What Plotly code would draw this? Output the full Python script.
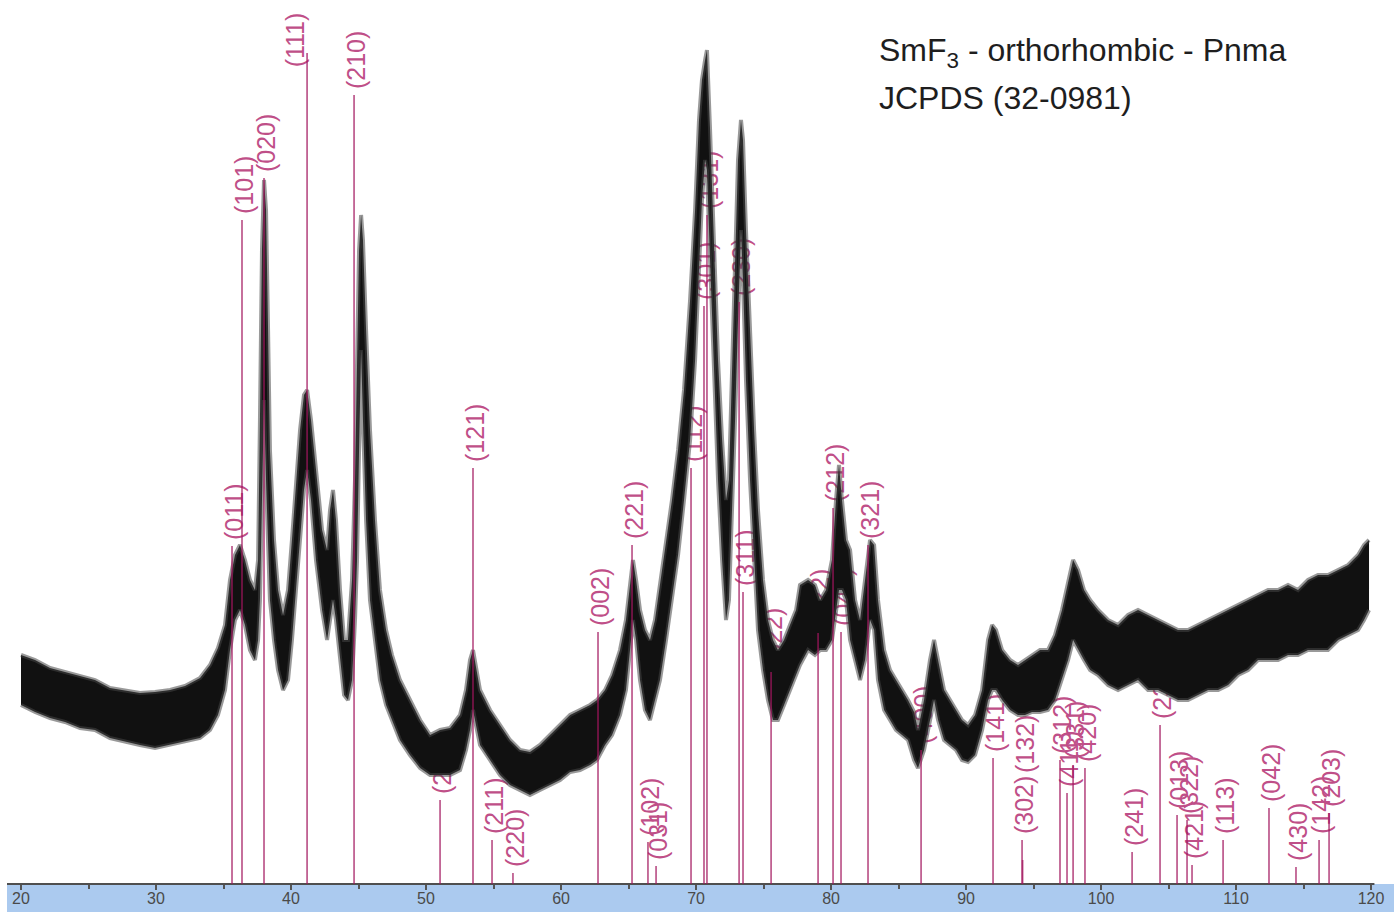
import plotly.graph_objects as go

# ---------------------------------------------------------------------------
# Measured powder pattern: 2-theta (deg) with upper / lower edge of the noisy
# intensity band (counts, arbitrary units)
# ---------------------------------------------------------------------------
two_theta = [
    20.00, 21.04, 22.15, 23.26, 24.37, 25.48, 26.59, 27.70, 28.81, 29.93,
    31.04, 32.15, 33.26, 34.00, 34.59, 35.11, 35.48, 35.85, 36.22, 36.59,
    36.96, 37.33, 37.56, 37.70, 37.85, 38.00, 38.15, 38.30, 38.44, 38.74,
    39.04, 39.41, 39.78, 40.07, 40.37, 40.67, 40.96, 41.19, 41.48, 41.85,
    42.30, 42.67, 42.89, 43.11, 43.33, 43.63, 43.93, 44.22, 44.52, 44.74,
    44.89, 45.04, 45.19, 45.33, 45.56, 45.85, 46.22, 46.59, 47.04, 47.48,
    48.07, 48.81, 49.56, 50.30, 51.04, 51.78, 52.52, 52.96, 53.26, 53.48,
    53.70, 54.00, 54.74, 55.48, 56.22, 56.96, 57.70, 58.44, 59.19, 59.93,
    60.67, 61.41, 62.15, 62.67, 63.26, 63.78, 64.37, 64.81, 65.11, 65.33,
    65.56, 65.85, 66.22, 66.59, 66.96, 67.33, 67.78, 68.22, 68.67, 69.11,
    69.56, 69.93, 70.22, 70.44, 70.67, 70.81, 71.04, 71.33, 71.63, 71.93,
    72.22, 72.44, 72.67, 72.89, 73.11, 73.33, 73.48, 73.70, 74.00, 74.30,
    74.59, 74.96, 75.33, 75.70, 76.07, 76.52, 76.96, 77.41, 77.70, 78.30,
    78.81, 79.19, 79.63, 80.07, 80.37, 80.59, 80.81, 81.11, 81.41, 81.78,
    82.15, 82.52, 82.89, 83.19, 83.48, 83.93, 84.37, 84.81, 85.26, 85.70,
    86.15, 86.44, 86.89, 87.33, 87.63, 87.93, 88.37, 88.81, 89.26, 89.70,
    90.15, 90.67, 91.19, 91.63, 91.93, 92.22, 92.67, 93.26, 93.85, 94.37,
    94.89, 95.48, 96.07, 96.59, 97.11, 97.56, 97.93, 98.30, 98.74, 99.19,
    99.78, 100.52, 101.26, 102.00, 102.74, 103.48, 104.22, 104.96, 105.70, 106.44,
    107.19, 107.93, 108.67, 109.41, 110.15, 110.89, 111.63, 112.37, 113.11, 113.85,
    114.59, 115.33, 116.07, 116.81, 117.56, 118.30, 119.04, 119.48, 119.85,
]

intensity_upper = [
    229, 224, 216, 212, 209, 204, 196, 194, 191, 192,
    194, 198, 206, 219, 236, 259, 304, 329, 339, 324,
    304, 294, 324, 464, 634, 704, 674, 554, 434, 344,
    294, 269, 294, 344, 404, 454, 489, 494, 464, 414,
    354, 334, 374, 394, 364, 294, 244, 244, 304, 404,
    554, 634, 669, 644, 554, 454, 364, 294, 254, 229,
    204, 184, 164, 149, 154, 156, 169, 194, 224, 234,
    219, 194, 174, 159, 144, 134, 132, 139, 149, 159,
    169, 174, 179, 184, 194, 209, 234, 264, 304, 324,
    304, 274, 254, 244, 264, 299, 344, 384, 434, 494,
    584, 674, 764, 804, 824, 834, 754, 634, 524, 444,
    384, 404, 524, 644, 724, 764, 744, 654, 544, 454,
    374, 304, 264, 244, 234, 244, 259, 274, 299, 304,
    299, 284, 294, 324, 384, 419, 384, 344, 334, 284,
    264, 304, 344, 339, 284, 234, 214, 204, 194, 184,
    172, 154, 184, 224, 244, 224, 194, 184, 174, 164,
    159, 169, 194, 244, 259, 254, 234, 224, 219, 224,
    229, 234, 234, 249, 274, 304, 324, 314, 294, 284,
    274, 264, 259, 269, 274, 269, 264, 259, 254, 254,
    259, 264, 269, 274, 279, 284, 289, 294, 294, 299,
    294, 304, 309, 309, 314, 319, 329, 339, 344,
]

intensity_lower = [
    179, 172, 166, 162, 156, 154, 146, 142, 139, 136,
    139, 142, 146, 154, 169, 194, 234, 264, 274, 259,
    234, 224, 244, 284, 364, 484, 404, 324, 284, 244,
    214, 194, 204, 244, 294, 344, 394, 414, 384, 324,
    274, 244, 264, 284, 264, 224, 189, 184, 204, 264,
    324, 434, 534, 464, 364, 284, 244, 204, 179, 164,
    144, 129, 116, 109, 109, 109, 114, 134, 154, 174,
    159, 139, 124, 109, 99, 94, 89, 94, 99, 104,
    112, 114, 119, 124, 139, 149, 169, 194, 234, 264,
    244, 204, 174, 164, 184, 204, 244, 284, 329, 384,
    444, 524, 604, 684, 724, 714, 624, 504, 404, 324,
    264, 284, 364, 464, 564, 654, 604, 504, 404, 324,
    254, 214, 184, 164, 164, 179, 194, 209, 219, 234,
    229, 234, 234, 244, 274, 294, 294, 284, 244, 224,
    204, 224, 264, 254, 204, 174, 164, 154, 149, 144,
    124, 116, 134, 164, 184, 164, 144, 139, 134, 124,
    122, 129, 154, 184, 194, 194, 184, 174, 169, 169,
    172, 172, 174, 184, 204, 224, 244, 234, 224, 214,
    209, 199, 194, 199, 204, 194, 194, 189, 184, 184,
    189, 194, 194, 199, 209, 214, 224, 224, 224, 229,
    229, 234, 234, 234, 244, 249, 254, 264, 274,
]

# ---------------------------------------------------------------------------
# Reference reflections, SmF3 orthorhombic Pnma, JCPDS 32-0981
# ---------------------------------------------------------------------------
ref_hkl = [
    "(011)", "(101)", "(020)", "(111)", "(210)", "(201)", "(121)", "(211)",
    "(220)", "(002)", "(221)", "(102)", "(031)", "(112)", "(301)", "(131)",
    "(230)", "(311)", "(022)", "(122)", "(212)", "(040)", "(321)", "(400)",
    "(141)", "(302)", "(132)", "(312)", "(411)", "(331)", "(420)", "(241)",
    "(232)", "(013)", "(322)", "(421)", "(113)", "(042)", "(430)", "(142)",
    "(203)",
]
ref_two_theta = [
    35.63, 36.37, 38.00, 41.19, 44.67, 51.04, 53.48, 54.89,
    56.44, 62.74, 65.26, 66.44, 67.04, 69.63, 70.59, 70.81,
    73.19, 73.48, 75.56, 79.04, 80.15, 80.74, 82.74, 86.67,
    92.00, 94.15, 94.19, 96.96, 97.48, 97.93, 98.81, 102.30,
    104.37, 105.63, 106.37, 106.74, 109.04, 112.44, 114.44, 116.15,
    116.89,
]
ref_intensity = [
    338, 664, 706, 831, 789, 84, 416, 44,
    11, 252, 339, 42, 18, 416, 578, 669,
    582, 292, 212, 251, 376, 252, 339, 134,
    126, 44, 24, 124, 91, 119, 116, 32,
    159, 69, 64, 19, 44, 76, 17, 44,
    71,
]

title_lines = ["SmF<sub>3</sub> - orthorhombic - Pnma", "JCPDS (32-0981)"]

# ---------------------------------------------------------------------------
# Layout geometry and styles
# ---------------------------------------------------------------------------
WIDTH, HEIGHT = 1394, 912
MARGIN = dict(l=7, r=0, t=0, b=28)
X_RANGE = [18.963, 121.70]
Y_RANGE = [0, 884]
PLOT_H = HEIGHT - MARGIN["t"] - MARGIN["b"]
PLOT_W = WIDTH - MARGIN["l"] - MARGIN["r"]
Y_PER_PX = (Y_RANGE[1] - Y_RANGE[0]) / PLOT_H

FONT = "Liberation Sans, Arial, Helvetica, sans-serif"
STICK_COLOR = "#a3175f"
LABEL_COLOR = "#bf4f88"
BAND_COLOR = "#111111"
EDGE_COLOR = "rgba(70,70,70,0.55)"
AXIS_BAND = "#abcaef"

LABEL_GAP_PX = 6
# labels moved from their default spot above the stick (total lift in px)
LABEL_LIFT_PX = {"(111)": 13, "(132)": 87}
# labels drawn alongside the stick instead of above it
LABEL_BESIDE = {"(111)"}

fig = go.Figure()

# noisy measured pattern drawn as a filled band between its two edges;
# the wide translucent edge gives the band its grey fringe
fig.add_trace(go.Scatter(
    x=two_theta, y=intensity_lower, mode="lines",
    line=dict(color=EDGE_COLOR, width=4),
    hoverinfo="skip", showlegend=False,
))
fig.add_trace(go.Scatter(
    x=two_theta, y=intensity_upper, mode="lines",
    fill="tonexty", fillcolor=BAND_COLOR,
    line=dict(color=EDGE_COLOR, width=4),
    hoverinfo="skip", showlegend=False,
))

shapes = [
    # light-blue strip that carries the 2-theta tick labels
    dict(type="rect", xref="paper", yref="paper",
         x0=0, x1=1, y0=-MARGIN["b"] / PLOT_H, y1=0,
         fillcolor=AXIS_BAND, line=dict(width=0), layer="below"),
    # baseline
    dict(type="line", xref="x", yref="paper",
         x0=X_RANGE[0], x1=120.25, y0=0, y1=0,
         line=dict(color="#4f4f4f", width=2), layer="above"),
]

for hkl, tt, inten in zip(ref_hkl, ref_two_theta, ref_intensity):
    beside = hkl in LABEL_BESIDE
    lift = LABEL_LIFT_PX.get(hkl, LABEL_GAP_PX) * Y_PER_PX
    # invisible carrier whose end holds the Miller-index label (below the data)
    shapes.append(dict(
        type="line", xref="x", yref="y",
        x0=tt, x1=tt, y0=0, y1=inten + lift,
        line=dict(color="rgba(0,0,0,0)", width=1), layer="below",
        label=dict(
            text=hkl, textposition="end", textangle=-90,
            xanchor="center" if beside else "left",
            yanchor="bottom" if beside else "middle",
            padding=0,
            font=dict(family=FONT, size=25, color=LABEL_COLOR),
        ),
    ))
    # reference stick drawn over the pattern
    shapes.append(dict(
        type="line", xref="x", yref="y",
        x0=tt, x1=tt, y0=0, y1=inten,
        line=dict(color=STICK_COLOR, width=1.7), opacity=0.72, layer="above",
    ))

title_x = (877 - MARGIN["l"]) / PLOT_W
annotations = [
    dict(text=title_lines[0], xref="paper", yref="paper",
         x=title_x, y=1 - 52 / PLOT_H, xanchor="left", yanchor="middle",
         showarrow=False, font=dict(family=FONT, size=32, color="#1e1e1e")),
    dict(text=title_lines[1], xref="paper", yref="paper",
         x=title_x, y=1 - 98 / PLOT_H, xanchor="left", yanchor="middle",
         showarrow=False, font=dict(family=FONT, size=32, color="#1e1e1e")),
]

fig.update_layout(
    width=WIDTH, height=HEIGHT, margin=MARGIN,
    template="none",
    paper_bgcolor="white", plot_bgcolor="white",
    showlegend=False,
    shapes=shapes,
    annotations=annotations,
    xaxis=dict(
        range=X_RANGE, showgrid=False, zeroline=False, showline=False,
        ticks="outside", ticklen=5, tickwidth=1.5, tickcolor="#555555",
        tick0=20, dtick=10, ticklabelstandoff=-5,
        tickfont=dict(family=FONT, size=16, color="#4a4a4a"),
        minor=dict(ticks="outside", ticklen=4, tickwidth=1.5,
                   tickcolor="#555555", tick0=20, dtick=5, showgrid=False),
    ),
    yaxis=dict(range=Y_RANGE, visible=False, showgrid=False, zeroline=False),
)

fig.write_html("out.html", config={"displayModeBar": False})
